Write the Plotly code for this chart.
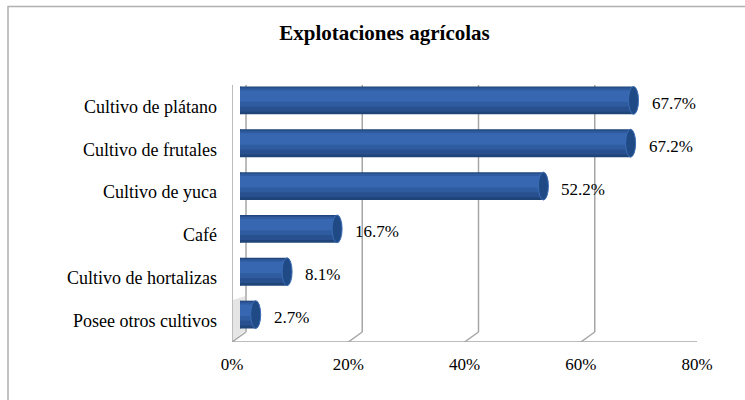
import plotly.graph_objects as go

# ---- data ----
categories = ["Cultivo de plátano", "Cultivo de frutales", "Cultivo de yuca",
              "Café", "Cultivo de hortalizas", "Posee otros cultivos"]
values = [67.7, 67.2, 52.2, 16.7, 8.1, 2.7]
x_ticks = [0, 20, 40, 60, 80]
title_text = "Explotaciones agrícolas"

# ---- layout constants ----
W, H = 745, 400
FONT = "Liberation Serif, Times New Roman, serif"
GRID = "#a6a6a6"
DX, DY = 14, 10          # depth of 3D back wall in px
BX, BY = 8, 6            # bar plane offset (mid depth)
left_px, right_px, bottom_px, top_px = 232, 697, 342, 85
bar_w = 0.65

cat_order = list(reversed(categories))
n = len(categories)

fig = go.Figure()

layers = [
    (0.00, 1.00, "#1f4478"),
    (0.10, 0.97, "#28508e"),
    (0.28, 0.93, "#2f5ca0"),
    (0.45, 0.86, "#3767b0"),
]
for lo, hi, col in layers:
    fig.add_trace(go.Bar(
        x=values, y=categories, orientation="h",
        xaxis="x2", yaxis="y2",
        base=0,
        offset=-bar_w / 2 + bar_w * lo, width=bar_w * (hi - lo),
        marker=dict(color=col, line=dict(width=0)),
        hoverinfo="skip", showlegend=False,
    ))

shapes = []
# outer border
shapes.append(dict(type="rect", xref="paper", yref="paper",
                   x0=8 / W, x1=1.05, y0=-0.05, y1=1 - 6.5 / H,
                   line=dict(color="#b0b0b0", width=1.5), layer="below"))
# back-wall gridlines and floor depth lines
for v in x_ticks:
    shapes.append(dict(type="line", xref="x", yref="y",
                       xsizemode="pixel", ysizemode="pixel",
                       xanchor=v, yanchor=-0.5,
                       x0=DX, x1=DX, y0=DY, y1=bottom_px - top_px + DY + 1,
                       line=dict(color=GRID, width=1.5), layer="below"))
    shapes.append(dict(type="line", xref="x", yref="y",
                       xsizemode="pixel", ysizemode="pixel",
                       xanchor=v, yanchor=-0.5,
                       x0=0, x1=DX, y0=0, y1=DY,
                       line=dict(color=GRID, width=1.5), layer="below"))
# front floor edge
shapes.append(dict(type="line", xref="x", yref="y",
                   x0=x_ticks[0], x1=x_ticks[-1], y0=-0.5, y1=-0.5,
                   line=dict(color=GRID, width=1.5), layer="below"))
# left wall front edge and top
shapes.append(dict(type="line", xref="x", yref="y",
                   x0=0, x1=0, y0=-0.5, y1=n - 0.5,
                   line=dict(color=GRID, width=1.5), layer="below"))
shapes.append(dict(type="line", xref="x", yref="y",
                   xsizemode="pixel", ysizemode="pixel",
                   xanchor=0, yanchor=n - 0.5,
                   x0=0, x1=DX, y0=0, y1=DY + 1,
                   line=dict(color=GRID, width=1.5), layer="below"))
# shadow on the left wall near the lowest bar
shapes.append(dict(type="path", xref="x", yref="y",
                   xsizemode="pixel", ysizemode="pixel",
                   xanchor=0, yanchor=-0.5,
                   path=f"M 1,2 L {DX-1},{DY+1} L {DX-1},{DY+36} L 1,{42} Z",
                   fillcolor="rgba(0,0,0,0.10)", line=dict(width=0), layer="below"))

# cylinder caps
for cat, v in zip(categories, values):
    idx = cat_order.index(cat)
    shapes.append(dict(type="circle", xref="x2", yref="y2",
                       xsizemode="pixel", xanchor=0, x0=-5, x1=5,
                       y0=idx - bar_w / 2, y1=idx + bar_w / 2,
                       fillcolor="#2b5798", line=dict(width=0), layer="below"))
    shapes.append(dict(type="circle", xref="x2", yref="y2",
                       xsizemode="pixel", xanchor=v, x0=-5, x1=5,
                       y0=idx - bar_w / 2, y1=idx + bar_w / 2,
                       fillcolor="#204a86", line=dict(color="#3a6cb4", width=1),
                       layer="above"))

annotations = []
for cat, v in zip(categories, values):
    annotations.append(dict(x=v, y=cat, xref="x2", yref="y2",
                            text=f"{v:.1f}%", showarrow=False,
                            xanchor="left", yanchor="middle",
                            xshift=16, yshift=-3,
                            font=dict(family=FONT, size=17, color="#000")))

fig.update_layout(
    template="none",
    width=W, height=H, autosize=False,
    margin=dict(l=0, r=0, t=0, b=0, pad=0),
    paper_bgcolor="white", plot_bgcolor="rgba(0,0,0,0)",
    barmode="overlay", showlegend=False,
    font=dict(family=FONT, size=17, color="#000"),
    title=dict(text=f"<b>{title_text}</b>", x=384.5 / W, y=1 - 33 / H,
               xanchor="center", yanchor="middle", xref="paper", yref="paper",
               automargin=False,
               font=dict(family=FONT, size=21, color="#000")),
    xaxis=dict(domain=[left_px / W, right_px / W], range=[0, 80],
               tickvals=x_ticks, ticktext=[f"{t}%" for t in x_ticks],
               showgrid=False, zeroline=False, showline=False, automargin=False,
               ticks="", ticklabelstandoff=10,
               tickfont=dict(family=FONT, size=17, color="#000"),
               anchor="y", fixedrange=True),
    yaxis=dict(domain=[1 - bottom_px / H, 1 - top_px / H], range=[-0.5, n - 0.5],
               type="category", categoryorder="array", categoryarray=cat_order,
               showgrid=False, zeroline=False, showline=False, automargin=False,
               ticks="", ticklabelstandoff=14,
               tickfont=dict(family=FONT, size=18, color="#000"),
               anchor="x", fixedrange=True),
    xaxis2=dict(domain=[(left_px + BX) / W, (right_px + BX) / W], range=[0, 80],
                visible=False, automargin=False, anchor="y2", fixedrange=True),
    yaxis2=dict(domain=[1 - (bottom_px - BY) / H, 1 - (top_px - BY) / H],
                range=[-0.5, n - 0.5], automargin=False,
                type="category", categoryorder="array", categoryarray=cat_order,
                visible=False, anchor="x2", fixedrange=True),
    shapes=shapes,
    annotations=annotations,
)

fig.write_html("out.html", config={"staticPlot": True, "responsive": False},
               default_width=f"{W}px", default_height=f"{H}px",
               post_script="document.body.style.margin='0';document.body.style.overflow='hidden';")
